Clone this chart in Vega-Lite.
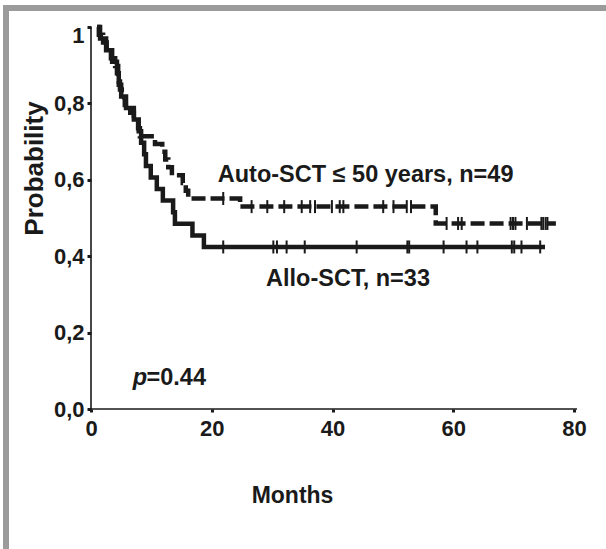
{
  "$schema": "https://vega.github.io/schema/vega-lite/v6.json",
  "width": 604,
  "height": 545,
  "autosize": "none",
  "padding": {"left": 6, "top": 8, "right": -4, "bottom": -4},
  "background": "white",
  "config": {
    "view": {"stroke": "#9b9b9b", "strokeWidth": 6},
    "font": "Liberation Sans",
    "axis": {"grid": false}
  },
  "datasets": {
    "km": [
      {"group": "Allo", "t": 1.0, "s": 1.0},
      {"group": "Allo", "t": 1.5, "s": 0.9697},
      {"group": "Allo", "t": 2.5, "s": 0.9394},
      {"group": "Allo", "t": 3.5, "s": 0.9091},
      {"group": "Allo", "t": 4.3, "s": 0.8788},
      {"group": "Allo", "t": 4.6, "s": 0.8485},
      {"group": "Allo", "t": 5.0, "s": 0.8182},
      {"group": "Allo", "t": 5.8, "s": 0.7879},
      {"group": "Allo", "t": 7.1, "s": 0.7576},
      {"group": "Allo", "t": 7.9, "s": 0.7273},
      {"group": "Allo", "t": 8.3, "s": 0.697},
      {"group": "Allo", "t": 8.8, "s": 0.6667},
      {"group": "Allo", "t": 9.1, "s": 0.6364},
      {"group": "Allo", "t": 9.9, "s": 0.6061},
      {"group": "Allo", "t": 10.9, "s": 0.5758},
      {"group": "Allo", "t": 11.9, "s": 0.5455},
      {"group": "Allo", "t": 13.6, "s": 0.5152},
      {"group": "Allo", "t": 13.9, "s": 0.4848},
      {"group": "Allo", "t": 16.8, "s": 0.4545},
      {"group": "Allo", "t": 18.7, "s": 0.4242},
      {"group": "Allo", "t": 75.2, "s": 0.4242},
      {"group": "Auto", "t": 1.0, "s": 1.0},
      {"group": "Auto", "t": 1.3, "s": 0.9796},
      {"group": "Auto", "t": 2.0, "s": 0.9592},
      {"group": "Auto", "t": 2.6, "s": 0.9388},
      {"group": "Auto", "t": 3.3, "s": 0.9184},
      {"group": "Auto", "t": 4.0, "s": 0.898},
      {"group": "Auto", "t": 4.5, "s": 0.8776},
      {"group": "Auto", "t": 4.6, "s": 0.8571},
      {"group": "Auto", "t": 4.8, "s": 0.8367},
      {"group": "Auto", "t": 5.1, "s": 0.8163},
      {"group": "Auto", "t": 5.6, "s": 0.7959},
      {"group": "Auto", "t": 6.5, "s": 0.7755},
      {"group": "Auto", "t": 7.1, "s": 0.7551},
      {"group": "Auto", "t": 7.8, "s": 0.7347},
      {"group": "Auto", "t": 8.1, "s": 0.7143},
      {"group": "Auto", "t": 10.6, "s": 0.6939},
      {"group": "Auto", "t": 11.8, "s": 0.6735},
      {"group": "Auto", "t": 12.3, "s": 0.6531},
      {"group": "Auto", "t": 12.8, "s": 0.6327},
      {"group": "Auto", "t": 13.4, "s": 0.6122},
      {"group": "Auto", "t": 15.2, "s": 0.5918},
      {"group": "Auto", "t": 15.7, "s": 0.5714},
      {"group": "Auto", "t": 16.1, "s": 0.551},
      {"group": "Auto", "t": 24.7, "s": 0.5298},
      {"group": "Auto", "t": 57.1, "s": 0.4857},
      {"group": "Auto", "t": 77.0, "s": 0.4857}
    ],
    "censor": [
      {"group": "Allo", "t": 21.9, "s": 0.4242},
      {"group": "Allo", "t": 30.2, "s": 0.4242},
      {"group": "Allo", "t": 30.8, "s": 0.4242},
      {"group": "Allo", "t": 32.4, "s": 0.4242},
      {"group": "Allo", "t": 35.4, "s": 0.4242},
      {"group": "Allo", "t": 44.0, "s": 0.4242},
      {"group": "Allo", "t": 52.4, "s": 0.4242},
      {"group": "Allo", "t": 52.7, "s": 0.4242},
      {"group": "Allo", "t": 58.4, "s": 0.4242},
      {"group": "Allo", "t": 62.2, "s": 0.4242},
      {"group": "Allo", "t": 64.0, "s": 0.4242},
      {"group": "Allo", "t": 69.7, "s": 0.4242},
      {"group": "Allo", "t": 70.1, "s": 0.4242},
      {"group": "Allo", "t": 71.3, "s": 0.4242},
      {"group": "Allo", "t": 74.4, "s": 0.4242},
      {"group": "Auto", "t": 21.9, "s": 0.551},
      {"group": "Auto", "t": 26.6, "s": 0.5298},
      {"group": "Auto", "t": 29.2, "s": 0.5298},
      {"group": "Auto", "t": 32.0, "s": 0.5298},
      {"group": "Auto", "t": 34.9, "s": 0.5298},
      {"group": "Auto", "t": 36.3, "s": 0.5298},
      {"group": "Auto", "t": 37.1, "s": 0.5298},
      {"group": "Auto", "t": 39.9, "s": 0.5298},
      {"group": "Auto", "t": 41.2, "s": 0.5298},
      {"group": "Auto", "t": 41.8, "s": 0.5298},
      {"group": "Auto", "t": 48.4, "s": 0.5298},
      {"group": "Auto", "t": 50.1, "s": 0.5298},
      {"group": "Auto", "t": 52.3, "s": 0.5298},
      {"group": "Auto", "t": 53.0, "s": 0.5298},
      {"group": "Auto", "t": 58.9, "s": 0.4857},
      {"group": "Auto", "t": 60.8, "s": 0.4857},
      {"group": "Auto", "t": 61.4, "s": 0.4857},
      {"group": "Auto", "t": 69.5, "s": 0.4857},
      {"group": "Auto", "t": 69.9, "s": 0.4857},
      {"group": "Auto", "t": 70.3, "s": 0.4857},
      {"group": "Auto", "t": 72.2, "s": 0.4857},
      {"group": "Auto", "t": 74.6, "s": 0.4857},
      {"group": "Auto", "t": 74.9, "s": 0.4857},
      {"group": "Auto", "t": 75.3, "s": 0.4857},
      {"group": "Auto", "t": 75.6, "s": 0.4857}
    ],
    "notes": [
      {"label": "Auto-SCT ≤ 50 years, n=49", "t": 21.0, "s": 0.613, "style": "normal"},
      {"label": "Allo-SCT, n=33", "t": 29.0, "s": 0.341, "style": "normal"},
      {"label": "=0.44", "t": 9.2, "s": 0.082, "style": "normal"},
      {"label": "p", "t": 6.9, "s": 0.082, "style": "italic"}
    ]
  },
  "layer": [
    {
      "data": {"name": "km"},
      "mark": {"type": "line", "interpolate": "step-after", "strokeWidth": 4.5, "color": "#1a1a1a", "strokeCap": "butt"},
      "encoding": {
        "x": {
          "field": "t", "type": "quantitative",
          "scale": {"domain": [-14.079, 85.962], "nice": false, "zero": false},
          "axis": {
            "orient": "bottom", "offset": -144, "domain": false,
            "values": [0, 20, 40, 60, 80],
            "tickSize": 3, "tickWidth": 3, "tickColor": "#1a1a1a",
            "labelFont": "Liberation Sans", "labelFontSize": 22, "labelFontWeight": "bold", "labelColor": "#1a1a1a",
            "labelPadding": 6,
            "title": "Months", "titleFont": "Liberation Sans", "titleFontSize": 23, "titleFontWeight": "bold", "titleColor": "#1a1a1a",
            "titleX": 286, "titleY": 93, "titleAlign": "center", "titleBaseline": "alphabetic"
          }
        },
        "y": {
          "field": "s", "type": "quantitative",
          "scale": {"domain": [-0.37696, 1.04974], "nice": false, "zero": false},
          "axis": {
            "orient": "left", "offset": -85, "domain": false,
            "values": [0, 0.2, 0.4, 0.6, 0.8, 1],
            "labelExpr": "datum.value == 1 ? '1' : replace(format(datum.value, '.1f'), '.', ',')",
            "tickSize": 4, "tickWidth": 3, "tickColor": "#1a1a1a",
            "labelFont": "Liberation Sans", "labelFontSize": 22, "labelFontWeight": "bold", "labelColor": "#1a1a1a",
            "labelPadding": 3,
            "labelOffset": {"condition": {"test": "datum.value == 1", "value": 8}, "value": 0},
            "title": "Probability", "titleFont": "Liberation Sans", "titleFontSize": 26, "titleFontWeight": "bold", "titleColor": "#1a1a1a",
            "titleAngle": 270, "titleX": -57, "titleY": 160, "titleAlign": "center", "titleBaseline": "middle"
          }
        },
        "detail": {"field": "group"},
        "strokeDash": {"field": "group", "type": "nominal", "scale": {"domain": ["Allo", "Auto"], "range": [[1, 0], [14, 5]]}, "legend": null}
      }
    },
    {
      "data": {"name": "censor"},
      "mark": {"type": "tick", "orient": "vertical", "size": 13, "thickness": 2, "color": "#1a1a1a", "opacity": 1},
      "encoding": {
        "x": {"field": "t", "type": "quantitative"},
        "y": {"field": "s", "type": "quantitative"}
      }
    },
    {
      "data": {"values": [{}]},
      "mark": {"type": "rule", "color": "#1a1a1a", "strokeWidth": 1.6},
      "encoding": {"x": {"datum": 0}, "x2": {"datum": 80.5}, "y": {"datum": 0}}
    },
    {
      "data": {"values": [{}]},
      "mark": {"type": "rule", "color": "#1a1a1a", "strokeWidth": 1.6},
      "encoding": {"x": {"datum": 0}, "y": {"datum": 0}, "y2": {"datum": 1.0}}
    },
    {
      "data": {"name": "notes"},
      "transform": [{"filter": "datum.style == 'normal'"}],
      "mark": {"type": "text", "font": "Liberation Sans", "fontSize": 23.5, "fontWeight": "bold", "fill": "#1a1a1a", "align": "left", "baseline": "middle"},
      "encoding": {
        "x": {"field": "t", "type": "quantitative"},
        "y": {"field": "s", "type": "quantitative"},
        "text": {"field": "label", "type": "nominal"}
      }
    },
    {
      "data": {"name": "notes"},
      "transform": [{"filter": "datum.style == 'italic'"}],
      "mark": {"type": "text", "font": "Liberation Sans", "fontSize": 23.5, "fontWeight": "bold", "fontStyle": "italic", "fill": "#1a1a1a", "align": "left", "baseline": "middle"},
      "encoding": {
        "x": {"field": "t", "type": "quantitative"},
        "y": {"field": "s", "type": "quantitative"},
        "text": {"field": "label", "type": "nominal"}
      }
    }
  ]
}
